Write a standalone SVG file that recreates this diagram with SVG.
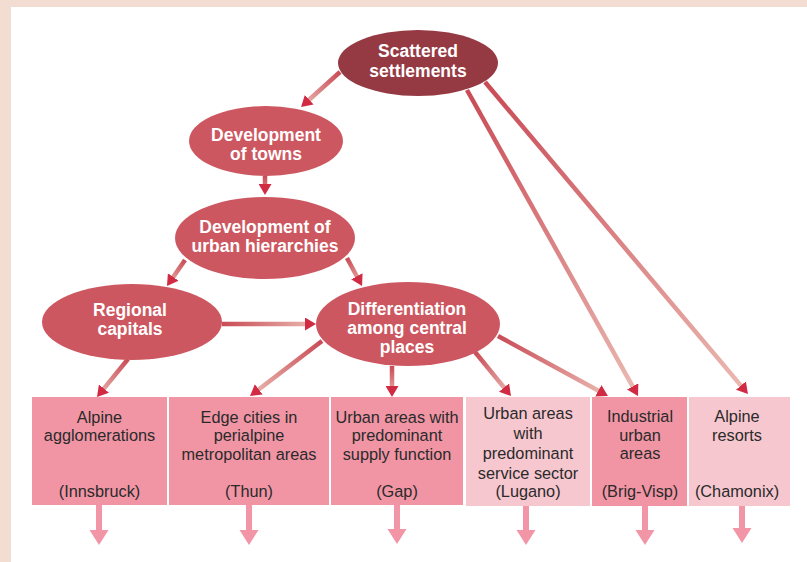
<svg xmlns="http://www.w3.org/2000/svg" width="807" height="562" viewBox="0 0 807 562">
<style>
.frame{fill:#f3ddd3}
.dark{fill:#953a43}
.mid{fill:#cd5760}
.et{font-family:"Liberation Sans",Arial,sans-serif;font-weight:bold;font-size:17.5px;fill:#ffffff;text-anchor:middle}
.bt{font-family:"Liberation Sans",Arial,sans-serif;font-size:16.3px;fill:#2a2a2a;text-anchor:middle}
.bm{fill:#f195a5}
.bl{fill:#f7c7cf}
.con{fill:none;stroke-width:4.5;marker-end:url(#ah)}
.down{fill:#f295a6}
</style>
<defs>
<marker id="ah" markerUnits="userSpaceOnUse" markerWidth="12" markerHeight="13" refX="5" refY="6.5" orient="auto">
<path d="M0,0 L11,6.5 L0,13 Z" fill="#d02b43"/>
</marker>
<linearGradient id="g1" gradientUnits="userSpaceOnUse" x1="340" y1="72" x2="301" y2="107"><stop offset="0" stop-color="#c94a55"/><stop offset="1" stop-color="#ebbab2"/></linearGradient>
<linearGradient id="g2" gradientUnits="userSpaceOnUse" x1="265" y1="176" x2="265" y2="195"><stop offset="0" stop-color="#c94a55"/><stop offset="1" stop-color="#e39a98"/></linearGradient>
<linearGradient id="g3" gradientUnits="userSpaceOnUse" x1="185" y1="260" x2="167" y2="286"><stop offset="0" stop-color="#c94a55"/><stop offset="1" stop-color="#ebbab2"/></linearGradient>
<linearGradient id="g4" gradientUnits="userSpaceOnUse" x1="347" y1="258" x2="362" y2="286"><stop offset="0" stop-color="#c94a55"/><stop offset="1" stop-color="#ebbab2"/></linearGradient>
<linearGradient id="g5" gradientUnits="userSpaceOnUse" x1="222" y1="324" x2="316" y2="324"><stop offset="0" stop-color="#c94a55"/><stop offset="1" stop-color="#ebbab2"/></linearGradient>
<linearGradient id="g6" gradientUnits="userSpaceOnUse" x1="128" y1="359" x2="97" y2="397"><stop offset="0" stop-color="#c94a55"/><stop offset="1" stop-color="#ebbab2"/></linearGradient>
<linearGradient id="g7" gradientUnits="userSpaceOnUse" x1="322" y1="341" x2="250" y2="396"><stop offset="0" stop-color="#c94a55"/><stop offset="1" stop-color="#ebbab2"/></linearGradient>
<linearGradient id="g8" gradientUnits="userSpaceOnUse" x1="392" y1="366" x2="392" y2="397"><stop offset="0" stop-color="#c94a55"/><stop offset="1" stop-color="#ebbab2"/></linearGradient>
<linearGradient id="g9" gradientUnits="userSpaceOnUse" x1="475" y1="352" x2="511" y2="396"><stop offset="0" stop-color="#c94a55"/><stop offset="1" stop-color="#ebbab2"/></linearGradient>
<linearGradient id="g10" gradientUnits="userSpaceOnUse" x1="498" y1="336" x2="608" y2="396"><stop offset="0" stop-color="#c94a55"/><stop offset="1" stop-color="#ebbab2"/></linearGradient>
<linearGradient id="g11" gradientUnits="userSpaceOnUse" x1="467" y1="90" x2="638" y2="396"><stop offset="0" stop-color="#c94a55"/><stop offset="1" stop-color="#ebbab2"/></linearGradient>
<linearGradient id="g12" gradientUnits="userSpaceOnUse" x1="485" y1="82" x2="748" y2="394"><stop offset="0" stop-color="#c94a55"/><stop offset="1" stop-color="#ebbab2"/></linearGradient>
</defs>
<rect x="0" y="0" width="807" height="562" fill="#ffffff"/>
<rect class="frame" x="0" y="0" width="807" height="7"/>
<rect class="frame" x="0" y="0" width="11" height="562"/>

<g id="connectors">
<line class="con" stroke="url(#g1)" x1="340" y1="72" x2="305.5" y2="103"/>
<line class="con" stroke="url(#g2)" x1="265" y1="176" x2="265" y2="189"/>
<line class="con" stroke="url(#g3)" x1="185" y1="260" x2="170.4" y2="281.1"/>
<line class="con" stroke="url(#g4)" x1="347" y1="258" x2="359.2" y2="280.7"/>
<line class="con" stroke="url(#g5)" x1="222" y1="324" x2="310" y2="324"/>
<line class="con" stroke="url(#g6)" x1="128" y1="359" x2="100.8" y2="392.4"/>
<line class="con" stroke="url(#g7)" x1="322" y1="341" x2="254.8" y2="392.4"/>
<line class="con" stroke="url(#g8)" x1="392" y1="366" x2="392" y2="391"/>
<line class="con" stroke="url(#g9)" x1="475" y1="352" x2="507.2" y2="391.4"/>
<line class="con" stroke="url(#g10)" x1="498" y1="336" x2="602.7" y2="393.1"/>
<line class="con" stroke="url(#g11)" x1="467" y1="90" x2="635.1" y2="390.8"/>
<line class="con" stroke="url(#g12)" x1="485" y1="82" x2="744.1" y2="389.4"/>
</g>

<g id="scattered">
<ellipse class="dark" cx="418" cy="63" rx="80" ry="33"/>
<text class="et" x="418" y="57">Scattered</text>
<text class="et" x="418" y="77">settlements</text>
</g>
<g id="towns">
<ellipse class="mid" cx="266" cy="141" rx="77" ry="35"/>
<text class="et" x="266" y="141">Development</text>
<text class="et" x="266" y="160">of towns</text>
</g>
<g id="hierarchies">
<ellipse class="mid" cx="265" cy="238" rx="90" ry="41"/>
<text class="et" x="265" y="233">Development of</text>
<text class="et" x="265" y="252">urban hierarchies</text>
</g>
<g id="regional">
<ellipse class="mid" cx="132" cy="322" rx="90" ry="38"/>
<text class="et" x="130" y="316">Regional</text>
<text class="et" x="130" y="335">capitals</text>
</g>
<g id="differentiation">
<ellipse class="mid" cx="408" cy="324" rx="92" ry="42"/>
<text class="et" x="407" y="315">Differentiation</text>
<text class="et" x="407" y="334">among central</text>
<text class="et" x="407" y="353">places</text>
</g>

<g id="box-alpine-agglomerations">
<rect class="bm" x="32" y="397" width="135" height="108"/>
<text class="bt" x="99.5" y="423">Alpine</text>
<text class="bt" x="99.5" y="441">agglomerations</text>
<text class="bt" x="99.5" y="497">(Innsbruck)</text>
<rect class="down" x="96" y="505" width="6" height="26"/>
<polygon class="down" points="89.5,530 108.5,530 99,545"/>
</g>
<g id="box-edge-cities">
<rect class="bm" x="169" y="397" width="160" height="108"/>
<text class="bt" x="249" y="423">Edge cities in</text>
<text class="bt" x="249" y="441">perialpine</text>
<text class="bt" x="249" y="460">metropolitan areas</text>
<text class="bt" x="249" y="497">(Thun)</text>
<rect class="down" x="246" y="505" width="6" height="26"/>
<polygon class="down" points="239.5,530 258.5,530 249,545"/>
</g>
<g id="box-supply">
<rect class="bm" x="331" y="397" width="132" height="108"/>
<text class="bt" x="397" y="423">Urban areas with</text>
<text class="bt" x="397" y="441">predominant</text>
<text class="bt" x="397" y="460">supply function</text>
<text class="bt" x="397" y="497">(Gap)</text>
<rect class="down" x="394" y="505" width="6" height="26"/>
<polygon class="down" points="387.5,529 406.5,529 397,544"/>
</g>
<g id="box-service">
<rect class="bl" x="466" y="397" width="124" height="109"/>
<text class="bt" x="528" y="419">Urban areas</text>
<text class="bt" x="528" y="439">with</text>
<text class="bt" x="528" y="459">predominant</text>
<text class="bt" x="528" y="479">service sector</text>
<text class="bt" x="528" y="497">(Lugano)</text>
<rect class="down" x="523" y="506" width="6" height="25"/>
<polygon class="down" points="516.5,530 535.5,530 526,545"/>
</g>
<g id="box-industrial">
<rect class="bm" x="592" y="397" width="95" height="109"/>
<text class="bt" x="640" y="422">Industrial</text>
<text class="bt" x="640" y="441">urban</text>
<text class="bt" x="640" y="459">areas</text>
<text class="bt" x="640" y="497">(Brig-Visp)</text>
<rect class="down" x="642" y="506" width="6" height="25"/>
<polygon class="down" points="635.5,530 654.5,530 645,545"/>
</g>
<g id="box-resorts">
<rect class="bl" x="689" y="397" width="101" height="109"/>
<text class="bt" x="737" y="422">Alpine</text>
<text class="bt" x="737" y="441">resorts</text>
<text class="bt" x="737" y="497">(Chamonix)</text>
<rect class="down" x="739" y="506" width="6" height="23"/>
<polygon class="down" points="732.5,528 751.5,528 742,543"/>
</g>
</svg>
